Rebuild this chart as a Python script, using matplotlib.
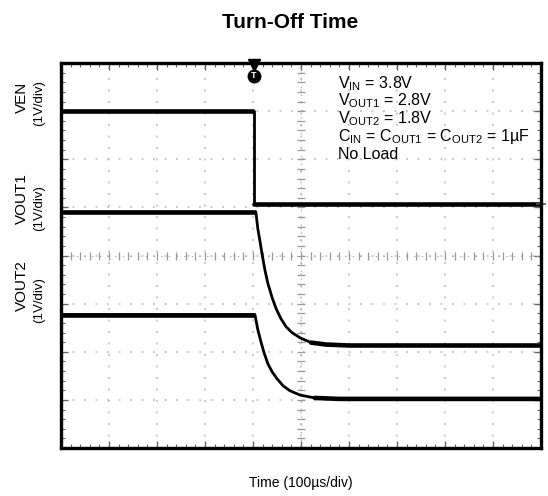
import matplotlib.pyplot as plt
from matplotlib.ticker import MultipleLocator

plt.rcParams['font.family'] = ['Liberation Sans', 'DejaVu Sans']
plt.rcParams['mathtext.fontset'] = 'custom'
plt.rcParams['mathtext.rm'] = 'Liberation Sans'
plt.rcParams['mathtext.it'] = 'Liberation Sans'

# time in us (100 us/div), levels in screen divisions from the bottom (1 V/div)
ven_t = [0, 402, 402, 1000]
ven_v = [7.00, 7.00, 5.06, 5.06]

vout1_t = [0, 406, 410, 415, 419, 425, 431, 440, 448, 458, 469, 481, 498, 521, 552, 600, 1000]
vout1_v = [4.90, 4.90, 4.56, 4.27, 4.02, 3.69, 3.42, 3.12, 2.90, 2.69, 2.52, 2.40, 2.29, 2.19, 2.15, 2.13, 2.13]

vout2_t = [0, 404, 410, 417, 423, 431, 440, 450, 463, 477, 498, 529, 580, 1000]
vout2_v = [2.77, 2.77, 2.46, 2.19, 1.98, 1.75, 1.58, 1.44, 1.29, 1.19, 1.10, 1.04, 1.02, 1.02]

trig_t = 402

conditions = [
    r"V$_{\mathrm{IN}}$ = 3.8V",
    r"V$_{\mathrm{OUT1}}$ = 2.8V",
    r"V$_{\mathrm{OUT2}}$ = 1.8V",
    r"C$_{\mathrm{IN}}$ = C$_{\mathrm{OUT1}}$ = C$_{\mathrm{OUT2}}$ = 1µF",
    "No Load",
]

fig = plt.figure(figsize=(5.48, 4.96), dpi=100)
ax = fig.add_axes([61 / 548, 48 / 496, 480 / 548, 385 / 496])

ax.set_xlim(0, 1000)
ax.set_ylim(0, 8)

# scope graticule
ax.xaxis.set_major_locator(MultipleLocator(100))
ax.xaxis.set_minor_locator(MultipleLocator(20))
ax.yaxis.set_major_locator(MultipleLocator(1))
ax.yaxis.set_minor_locator(MultipleLocator(0.2))
ax.grid(which='major', color='#c2c2c2', linestyle=(0, (1.2, 5.7)), linewidth=1.2)
ax.tick_params(which='both', direction='in', top=True, right=True,
               labelbottom=False, labelleft=False, color='#666666')
ax.tick_params(which='major', length=5, width=1)
ax.tick_params(which='minor', length=3, width=0.8)
for s in ax.spines.values():
    s.set_linewidth(2.4)

# centre cross with minor ticks
ax.axvline(500, color='#aaaaaa', lw=0.8, ls=(0, (1.2, 5.7)))
ax.axhline(4, color='#aaaaaa', lw=0.8, ls=(0, (1.2, 5.7)))
minor_x = [i * 20 for i in range(1, 50)]
minor_y = [i * 0.2 for i in range(1, 40)]
ax.plot(minor_x, [4] * len(minor_x), ls='', marker='|', ms=6, mew=0.9, color='#999999')
ax.plot([500] * len(minor_y), minor_y, ls='', marker='_', ms=6, mew=0.9, color='#999999')

# traces: thinner on the edges, thick (noisy) on the settled levels
for t, v, settled in [(ven_t, ven_v, 2), (vout1_t, vout1_v, -4), (vout2_t, vout2_v, -3)]:
    ax.plot(t, v, color='black', lw=2.0, solid_joinstyle='round')
    ax.plot(t[:2], v[:2], color='black', lw=3.3, solid_capstyle='butt')
    ax.plot(t[settled:], v[settled:], color='black', lw=3.3, solid_capstyle='round')

# trigger marker
ax.plot([trig_t], [7.95], marker='v', ms=8, color='black', clip_on=False)
ax.plot([trig_t], [7.73], marker='o', ms=9, color='black', clip_on=False)
ax.text(trig_t, 7.73, 'T', color='white', fontsize=6.5, fontweight='bold',
        ha='center', va='center')
ax.plot([1000], [5.06], marker='_', ms=7, mew=1.2, color='#555555', clip_on=False)

# test conditions
for i, line in enumerate(conditions):
    ax.text(577, 7.58 - i * 0.37, line, fontsize=11.5, va='center', ha='left')

fig.text(290 / 548, 1 - 22 / 496, 'Turn-Off Time', fontsize=15, fontweight='bold',
         ha='center', va='center')
fig.text(301 / 548, 1 - 483 / 496, 'Time (100µs/div)', fontsize=10,
         ha='center', va='center')

labels = [('VEN', 97, 103), ('VOUT1', 199, 208), ('VOUT2', 286, 300)]
for name, y1, y2 in labels:
    fig.text(22 / 548, 1 - y1 / 496, name, fontsize=11, rotation=90,
             ha='center', va='center')
    fig.text(39 / 548, 1 - y2 / 496, '(1V/div)', fontsize=9.5, rotation=90,
             ha='center', va='center')

fig.savefig('out.png', dpi=100)
